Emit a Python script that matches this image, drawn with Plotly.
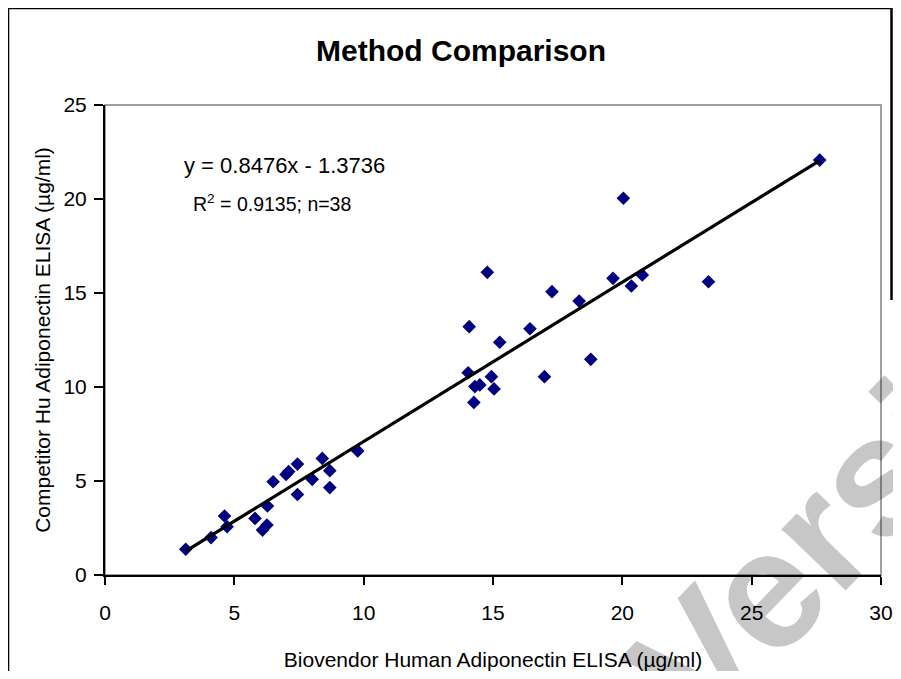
import plotly.graph_objects as go

# Data
biovendor = [3.12, 4.10, 4.62, 4.72, 5.80, 6.09, 6.26, 6.28, 6.50, 7.00,
             7.10, 7.44, 7.44, 8.01, 8.40, 8.69, 8.69, 9.77, 14.04, 14.08,
             14.26, 14.30, 14.49, 14.78, 14.94, 15.04, 15.26, 16.43, 16.99, 17.28,
             18.33, 18.78, 19.64, 20.04, 20.35, 20.77, 23.33, 27.63]
competitor = [1.37, 1.99, 3.14, 2.57, 3.01, 2.39, 2.66, 3.67, 4.96, 5.35,
              5.50, 5.90, 4.28, 5.09, 6.20, 5.55, 4.65, 6.60, 10.76, 13.21,
              9.18, 10.02, 10.11, 16.10, 10.55, 9.90, 12.38, 13.10, 10.55, 15.07,
              14.57, 11.47, 15.78, 20.04, 15.37, 15.96, 15.60, 22.07]
slope = 0.8476
intercept = -1.3736
x_ticks = [0, 5, 10, 15, 20, 25, 30]
y_ticks = [0, 5, 10, 15, 20, 25]

title_text = "Method Comparison"
x_title = "Biovendor Human Adiponectin ELISA (µg/ml)"
y_title = "Competitor Hu Adiponectin ELISA (µg/ml)"
eq_line1 = "y = 0.8476x - 1.3736"
eq_line2 = "R<sup>2</sup> = 0.9135; n=38"
watermark = "Version"

OFF = 8  # page body margin of the browser
W, H = 901 - OFF, 679 - 2 * OFF
L, T = 105 - OFF, 105 - OFF
R = W - (881 - OFF)
B = H - (575 - OFF)
FONT = "Liberation Sans, Arial, sans-serif"

x_line = [min(biovendor), max(biovendor)]
y_line = [slope * v + intercept for v in x_line]

fig = go.Figure()
fig.add_trace(go.Scatter(
    x=biovendor, y=competitor, mode="markers",
    marker=dict(symbol="diamond", size=10.5, color="#000080",
                line=dict(width=0)),
    showlegend=False, cliponaxis=False))
fig.add_trace(go.Scatter(
    x=x_line, y=y_line, mode="lines",
    line=dict(color="black", width=3.2), showlegend=False))

pw = W - L - R
ph = H - T - B


def px(xp):
    # page pixel -> paper fraction
    return (xp - OFF - L) / pw


def py(yp):
    return (H - B - (yp - OFF)) / ph


fig.update_layout(
    template="none",
    width=W, height=H,
    margin=dict(l=L, r=R, t=T, b=B, autoexpand=False),
    paper_bgcolor="white", plot_bgcolor="white",
    font=dict(family=FONT, color="black", size=21),
    title=dict(text="<b>" + title_text + "</b>", x=(461 - OFF) / W,
               y=1 - (50 - OFF) / H,
               xanchor="center", yanchor="middle", xref="container",
               yref="container",
               font=dict(family=FONT, size=30, color="black")),
    xaxis=dict(range=[0, 30], tickvals=x_ticks, ticktext=[str(v) for v in x_ticks],
               automargin=False,
               showgrid=False, zeroline=False, showline=True,
               linecolor="black", linewidth=2, ticks="outside", ticklen=8,
               tickwidth=2, tickcolor="black",
               tickfont=dict(family=FONT, size=21, color="black"),
               ticklabelstandoff=10,
               title=dict(text=x_title, standoff=31,
                          font=dict(family=FONT, size=21, color="black"))),
    yaxis=dict(range=[0, 25], tickvals=y_ticks, ticktext=[str(v) for v in y_ticks],
               automargin=False,
               showgrid=False, zeroline=False, showline=True,
               linecolor="black", linewidth=2, ticks="outside", ticklen=9,
               tickwidth=2, tickcolor="black",
               tickfont=dict(family=FONT, size=21, color="black"),
               ticklabelstandoff=3,
               title=dict(text=y_title, standoff=7,
                          font=dict(family=FONT, size=21, color="black"))),
)

# gray plot-area frame (top/right)
fig.add_shape(type="rect", xref="paper", yref="paper", x0=0, y0=0, x1=1, y1=1,
              line=dict(color="#808080", width=1.5), layer="below")
# outer chart frame (left, top, right)
fig.add_shape(type="line", xref="paper", yref="paper",
              x0=px(8), y0=py(8), x1=px(8), y1=py(700),
              line=dict(color="black", width=2.5))
fig.add_shape(type="line", xref="paper", yref="paper",
              x0=px(8), y0=py(8), x1=px(892), y1=py(8),
              line=dict(color="black", width=2.5))
fig.add_shape(type="line", xref="paper", yref="paper",
              x0=px(891.5), y0=py(8), x1=px(891.5), y1=py(300),
              line=dict(color="black", width=2.5))

fig.add_annotation(text=eq_line1, xref="paper", yref="paper",
                   x=px(284), y=py(165), showarrow=False,
                   xanchor="center", yanchor="middle",
                   font=dict(family=FONT, size=22, color="black"))
fig.add_annotation(text=eq_line2, xref="paper", yref="paper",
                   x=px(272), y=py(203), showarrow=False,
                   xanchor="center", yanchor="middle",
                   font=dict(family=FONT, size=19.5, color="black"))

# watermark
fig.add_annotation(text="<b>" + watermark + "</b>", xref="paper", yref="paper",
                   x=px(870), y=py(482), showarrow=False, textangle=-46,
                   xanchor="center", yanchor="middle",
                   font=dict(family=FONT, size=168, color="rgba(0,0,0,0.22)"))

fig.write_html("out.html")
